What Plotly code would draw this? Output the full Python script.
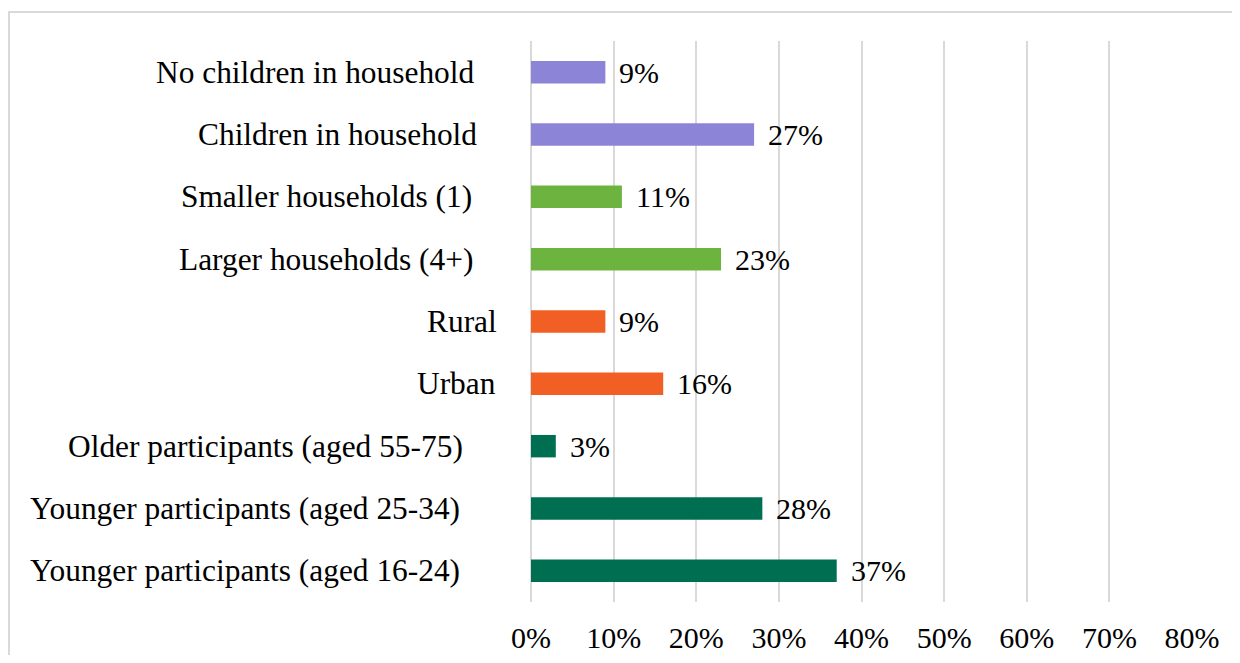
import plotly.graph_objects as go

categories = [
    "No children in household",
    "Children in household",
    "Smaller households (1)",
    "Larger households (4+)",
    "Rural",
    "Urban",
    "Older participants (aged 55-75)",
    "Younger participants (aged 25-34)",
    "Younger participants (aged 16-24)",
]
values = [0.09, 0.27, 0.11, 0.23, 0.09, 0.16, 0.03, 0.28, 0.37]
value_labels = ["9%", "27%", "11%", "23%", "9%", "16%", "3%", "28%", "37%"]
tick_values = [0, 0.1, 0.2, 0.3, 0.4, 0.5, 0.6, 0.7, 0.8]
tick_labels = ["0%", "10%", "20%", "30%", "40%", "50%", "60%", "70%", "80%"]

# styling
bar_colors = ["#8C84D6", "#8C84D6", "#6DB33F", "#6DB33F", "#F15F24", "#F15F24",
              "#006F51", "#006F51", "#006F51"]
label_right_shift = [-54, -52, -57, -56, -32, -33, -66, -69, -69]
FONT = "Liberation Serif"
FS = 30
FS_CAT = 31.4

# page has an 8px body margin; figure is sized/placed so the page is exactly 1240x663
W, H = 1224, 647
PL, PR, PT, PB = 523, 40, 33, 53
pw = W - PL - PR
ph = H - PT - PB

fig = go.Figure()
fig.add_trace(go.Bar(
    y=categories, x=values, orientation="h",
    marker=dict(color=bar_colors, line=dict(width=0)),
    hoverinfo="skip",
))

annotations = []
for c, v, lab, sh in zip(categories, values, value_labels, label_right_shift):
    annotations.append(dict(x=v, y=c, xref="x", yref="y", text=lab, showarrow=False,
                            xanchor="left", yanchor="middle", xshift=12,
                            font=dict(family=FONT, size=FS, color="#000000")))
    annotations.append(dict(x=0, y=c, xref="x", yref="y", text=c, showarrow=False,
                            xanchor="right", yanchor="middle", xshift=sh,
                            font=dict(family=FONT, size=FS_CAT, color="#000000")))

shapes = [dict(type="rect", xref="paper", yref="paper",
               x0=(1 - PL) / pw, x1=(W + 10 - PL) / pw,
               y0=-(H + 10 - PT - ph) / ph, y1=(PT + ph - 4) / ph,
               line=dict(color="#D9D9D9", width=2), fillcolor="rgba(0,0,0,0)", layer="below")]

fig.update_layout(
    width=W, height=H,
    margin=dict(l=PL, r=PR, t=PT, b=PB, pad=0, autoexpand=False),
    paper_bgcolor="white", plot_bgcolor="white",
    showlegend=False,
    bargap=0.64,
    annotations=annotations,
    shapes=shapes,
    font=dict(family=FONT, size=FS, color="#000000"),
)
fig.update_xaxes(range=[0, 0.8], tickvals=tick_values, ticktext=tick_labels,
                 automargin=False,
                 showgrid=True, gridcolor="#D9D9D9", gridwidth=1.5,
                 zeroline=True, zerolinecolor="#D9D9D9", zerolinewidth=1.5,
                 showline=False, ticks="", ticklabelstandoff=15,
                 tickfont=dict(family=FONT, size=FS, color="#000000"), fixedrange=True)
fig.update_yaxes(autorange="reversed", showticklabels=False, showgrid=False,
                 automargin=False,
                 zeroline=False, showline=False, ticks="", fixedrange=True)

fig.write_html("out.html", config={"displayModeBar": False})
